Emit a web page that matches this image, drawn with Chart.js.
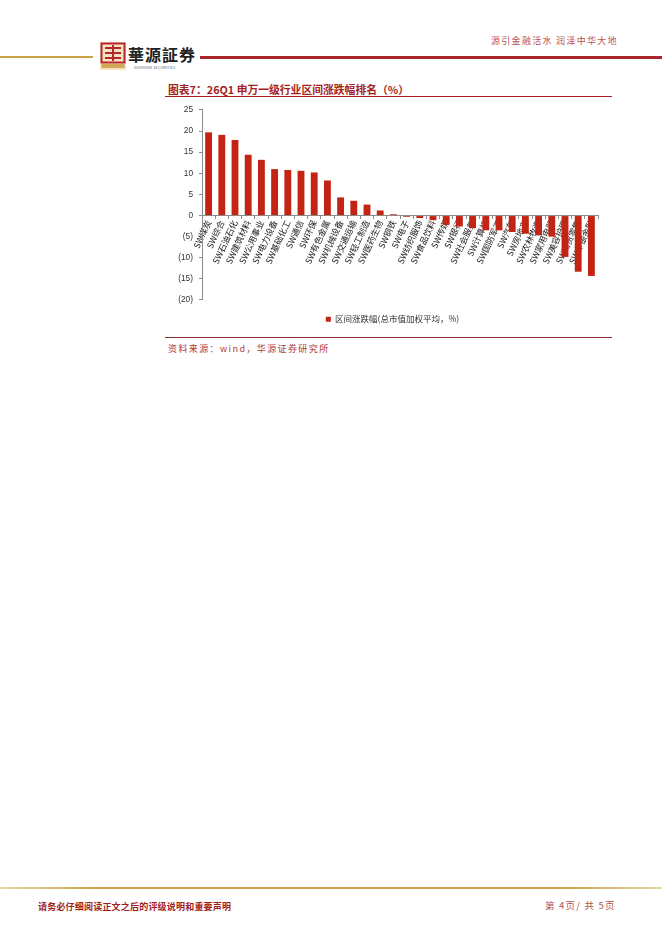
<!DOCTYPE html>
<html>
<head>
<meta charset="utf-8">
<script src="https://cdn.jsdelivr.net/npm/chart.js@4.4.1/dist/chart.umd.min.js"></script>
<style>
  html, body { margin: 0; padding: 0; background: #fff; }
  body { width: 662px; height: 936px; position: relative; overflow: hidden;
         font-family: "Noto Sans CJK SC", "Noto Sans", sans-serif; }
  .abs { position: absolute; line-height: 1; white-space: nowrap; }
  .slogan { left: 491px; top: 36px; font-size: 9px; color: #c0504d; letter-spacing: 1.3px; }
  .gold-line { left: 0; top: 56px; width: 93px; height: 2px; background: #c9a248; }
  .red-line { left: 200px; top: 56px; width: 462px; height: 3px; background: #a8262c; }
  .logo-text { left: 128px; top: 46px; font-size: 16px; font-weight: bold; color: #222; letter-spacing: 1px; }
  .logo-sub { left: 134px; top: 66px; font-size: 3.5px; color: #555; letter-spacing: 0.3px; }
  .title { left: 168px; top: 84px; font-size: 10.8px; font-weight: bold; color: #a61e22; }
  .title-line { left: 165px; top: 96px; width: 447px; height: 1px; background: #a61e22; }
  .src-line { left: 165px; top: 337px; width: 447px; height: 1px; background: #8f2a2e; }
  .source { left: 168px; top: 344px; font-size: 9px; color: #b03a3a; letter-spacing: 1.4px; }
  .foot-line { left: 0; top: 887px; width: 662px; height: 2px;
               background: linear-gradient(90deg, #e8d6a8, #c9a248 15%, #c9a248 85%, #e8d6a8); }
  .foot-left { left: 38px; top: 902px; font-size: 9px; font-weight: bold; color: #a01e22; letter-spacing: 0.2px; }
  .foot-right { left: 545px; top: 901px; font-size: 9.5px; color: #b05050; letter-spacing: 1.2px; }
  #wrap { left: 165px; top: 98.5px; width: 455px; height: 234.5px; }
</style>
</head>
<body>
<div class="abs slogan">源引金融活水 润泽中华大地</div>
<div class="abs gold-line"></div>
<div class="abs red-line"></div>
<svg class="abs" style="left:100px;top:42px" width="26" height="28" viewBox="0 0 26 28">
  <rect x="0" y="0" width="26" height="28" fill="#f3e3c3"/>
  <rect x="1.5" y="1.5" width="23" height="19" fill="none" stroke="#b8262c" stroke-width="2"/>
  <rect x="5" y="5" width="16" height="2" fill="#b8262c"/>
  <rect x="5" y="10" width="16" height="2" fill="#b8262c"/>
  <rect x="5" y="15" width="16" height="2" fill="#b8262c"/>
  <rect x="12" y="3" width="2" height="16" fill="#b8262c"/>
  <rect x="1.5" y="22" width="23" height="4" fill="#d2a85a"/>
</svg>
<div class="abs logo-text">華源証券</div>
<div class="abs logo-sub">HUAYUAN SECURITIES</div>

<div class="abs title">图表7：26Q1 申万一级行业区间涨跌幅排名（%）</div>
<div class="abs title-line"></div>

<div class="abs" id="wrap"><canvas id="chart"></canvas></div>

<div class="abs src-line"></div>
<div class="abs source">资料来源：wind，华源证券研究所</div>

<div class="abs foot-line"></div>
<div class="abs foot-left">请务必仔细阅读正文之后的评级说明和重要声明</div>
<div class="abs foot-right">第 4页/ 共 5页</div>

<script>
// 行业分类
const categories = ['SW煤炭', 'SW综合', 'SW石油石化', 'SW建筑材料', 'SW公用事业', 'SW电力设备',
    'SW基础化工', 'SW通信', 'SW环保', 'SW有色金属', 'SW机械设备', 'SW交通运输', 'SW轻工制造',
    'SW医药生物', 'SW钢铁', 'SW电子', 'SW纺织服饰', 'SW食品饮料', 'SW传媒', 'SW银行', 'SW社会服务',
    'SW计算机', 'SW国防军工', 'SW汽车', 'SW房地产', 'SW农林牧渔', 'SW家用电器', 'SW美容护理',
    'SW商贸零售', 'SW非银金融'];

// 区间涨跌幅（%）
const changes = [19.7, 19.1, 17.9, 14.4, 13.2, 11.0, 10.8, 10.6, 10.2, 8.3, 4.3, 3.5, 2.6,
    1.2, 0.3, -0.3, -0.6, -1.1, -2.2, -2.6, -3.0, -3.5, -3.5, -3.9, -4.3, -4.7, -5.0, -9.8,
    -13.3, -14.3];

// 纵轴刻度
const yTicks = [25, 20, 15, 10, 5, 0, -5, -10, -15, -20];
const seriesLabel = '区间涨跌幅(总市值加权平均，%)';

const axisColor = '#8c8c8c';
const textColor = '#333333';
const barColor = '#c32414';

const chart = new Chart(document.getElementById('chart'), {
    type: 'bar',
    data: {
        labels: categories,
        datasets: [{
            label: seriesLabel,
            data: changes,
            backgroundColor: barColor,
            borderWidth: 0,
            barPercentage: 0.52,
            categoryPercentage: 1.0
        }]
    },
    options: {
        responsive: true,
        maintainAspectRatio: false,
        animation: false,
        layout: { padding: { top: 7.5, right: 0, left: 0, bottom: 0 } },
        plugins: {
            legend: {
                position: 'bottom',
                labels: {
                    boxWidth: 5,
                    boxHeight: 5,
                    padding: 15,
                    color: textColor,
                    font: { size: 8.5, family: '"Noto Sans CJK SC", sans-serif' }
                }
            },
            tooltip: { enabled: false }
        },
        scales: {
            x: {
                position: { y: 0 },
                grid: {
                    display: true,
                    drawOnChartArea: false,
                    offset: true,
                    tickLength: 3,
                    color: axisColor
                },
                border: { display: true, color: axisColor },
                ticks: {
                    autoSkip: false,
                    minRotation: 65,
                    maxRotation: 65,
                    padding: 0,
                    color: '#222',
                    font: { size: 8.6, family: '"Noto Sans CJK SC", sans-serif' }
                },
                // 轴放在0位置，不占高度；右侧留空让图例整体偏右居中
                afterFit: function (scale) {
                    scale.height = 0;
                    scale.paddingRight = 22;
                }
            },
            y: {
                min: -20,
                max: 25,
                afterBuildTicks: function (scale) {
                    scale.ticks = yTicks.map(v => ({ value: v }));
                },
                grid: {
                    display: true,
                    drawOnChartArea: false,
                    tickLength: 3,
                    color: axisColor
                },
                border: { display: true, color: axisColor },
                ticks: {
                    padding: 6,
                    color: textColor,
                    font: { size: 8.3, family: '"Liberation Sans", Arial, sans-serif' },
                    callback: function (v) { return v < 0 ? '(' + (-v) + ')' : String(v); }
                },
                afterFit: function (scale) { scale.width = 37; }
            }
        }
    }
});
</script>
</body>
</html>
